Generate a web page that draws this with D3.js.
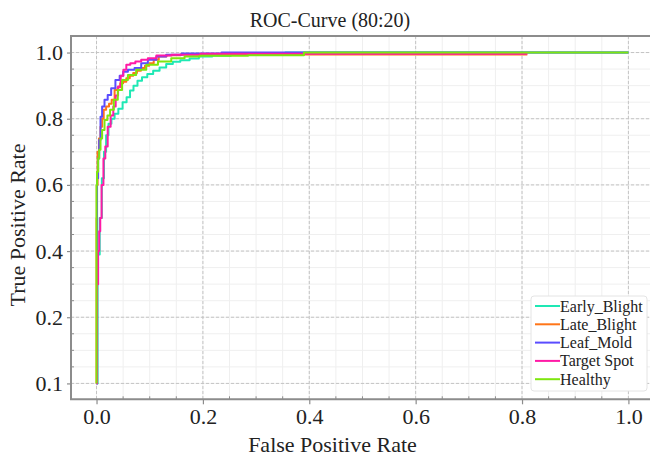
<!DOCTYPE html>
<html>
<head>
<meta charset="utf-8">
<script src="https://cdn.jsdelivr.net/npm/d3@7/dist/d3.min.js"></script>
<style>
  html, body { margin: 0; padding: 0; background: #fff; }
  svg { display: block; }
</style>
</head>
<body>
<svg id="chart" width="650" height="461"></svg>
<script>
// ROC curves per class (false positive rate / true positive rate)
const classNames = ["Early_Blight", "Late_Blight", "Leaf_Mold", "Target Spot", "Healthy"];
const classColors = ["#1ee8b4", "#ff7518", "#5a4cff", "#ff1aa6", "#7ee60e"];

const earlyFpr = [0, 0.004, 0.008, 0.012, 0.016, 0.020, 0.025, 0.031, 0.037, 0.045, 0.053, 0.060, 0.066, 0.073, 0.081, 0.090, 0.101, 0.112, 0.125, 0.137, 0.150, 0.165, 0.185, 0.200, 0.235, 0.270, 0.330, 0.380, 1.0];
const earlyTpr = [0, 0.39, 0.50, 0.62, 0.70, 0.75, 0.785, 0.80, 0.815, 0.83, 0.85, 0.865, 0.885, 0.90, 0.915, 0.925, 0.935, 0.945, 0.955, 0.965, 0.972, 0.977, 0.982, 0.988, 0.990, 0.993, 0.997, 1.0, 1.0];

const lateFpr = [0, 0, 0.001, 0.003, 0.006, 0.009, 0.012, 0.015, 0.021, 0.026, 0.031, 0.037, 0.042, 0.047, 0.053, 0.059, 0.066, 0.072, 0.080, 0.087, 0.095, 0.103, 0.112, 0.122, 0.141, 0.175, 0.210, 0.810];
const lateTpr = [0, 0.50, 0.60, 0.70, 0.74, 0.776, 0.80, 0.827, 0.837, 0.845, 0.857, 0.887, 0.895, 0.907, 0.912, 0.922, 0.93, 0.938, 0.945, 0.953, 0.96, 0.968, 0.978, 0.988, 0.992, 0.994, 0.994, 0.994];

const leafFpr = [0, 0.002, 0.004, 0.006, 0.009, 0.012, 0.018, 0.024, 0.031, 0.040, 0.047, 0.053, 0.065, 0.078, 0.090, 0.103, 0.122, 0.140, 0.180, 0.290, 0.420, 1.0];
const leafTpr = [0, 0.62, 0.68, 0.736, 0.806, 0.837, 0.857, 0.872, 0.892, 0.917, 0.93, 0.942, 0.948, 0.953, 0.968, 0.978, 0.988, 0.993, 0.997, 1.0, 1.0, 1.0];

const targetFpr = [0, 0.002, 0.004, 0.006, 0.008, 0.011, 0.015, 0.018, 0.024, 0.029, 0.034, 0.038, 0.043, 0.048, 0.053, 0.059, 0.068, 0.078, 0.090, 0.103, 0.122, 0.160, 0.230, 0.810];
const targetTpr = [0, 0.30, 0.40, 0.46, 0.50, 0.60, 0.68, 0.716, 0.776, 0.81, 0.837, 0.87, 0.897, 0.93, 0.948, 0.963, 0.968, 0.973, 0.978, 0.983, 0.991, 0.993, 0.996, 0.996];

const healthyFpr = [0, 0, 0.002, 0.004, 0.006, 0.009, 0.012, 0.018, 0.023, 0.028, 0.037, 0.043, 0.053, 0.065, 0.084, 0.103, 0.128, 0.153, 0.178, 0.210, 0.360, 0.420, 1.0];
const healthyTpr = [0, 0.60, 0.64, 0.68, 0.706, 0.74, 0.766, 0.796, 0.81, 0.827, 0.857, 0.887, 0.917, 0.932, 0.948, 0.963, 0.973, 0.983, 0.988, 0.990, 0.992, 1.0, 1.0];

const xTickValues = [0, 0.2, 0.4, 0.6, 0.8, 1.0];
const xTickLabels = ["0.0", "0.2", "0.4", "0.6", "0.8", "1.0"];
const yTickValues = [0, 0.2, 0.4, 0.6, 0.8, 1.0];
const yTickLabels = ["0.1", "0.2", "0.4", "0.6", "0.8", "1.0"];

const seriesFpr = [earlyFpr, lateFpr, leafFpr, targetFpr, healthyFpr];
const seriesTpr = [earlyTpr, lateTpr, leafTpr, targetTpr, healthyTpr];

const series = classNames.map((name, i) => ({
  name,
  color: classColors[i],
  points: seriesFpr[i].map((f, j) => [f, seriesTpr[i][j]])
}));

const SERIF = "'Liberation Serif'";
const INK = "#222";

// Layout
const svg = d3.select("#chart");
const box = { left: 71, right: 655, top: 36, bottom: 399.3 };
const xExtent = [-0.048, 1.05];
const yExtent = [-0.048, 1.05];

const x = d3.scaleLinear().domain(xExtent).range([box.left, box.right]);
const y = d3.scaleLinear().domain(yExtent).range([box.bottom, box.top]);

const minorStep = d3.range(-0.05, 1.0501, 0.05).map(v => +v.toFixed(2));
const minorX = minorStep.filter(v => v >= xExtent[0] && v <= xExtent[1]);
const minorY = minorStep.filter(v => v >= yExtent[0] && v <= yExtent[1]);

svg.append("defs").append("clipPath").attr("id", "plot-clip")
  .append("rect")
  .attr("x", box.left).attr("y", box.top)
  .attr("width", box.right - box.left).attr("height", box.bottom - box.top);

const grid = svg.append("g").attr("clip-path", "url(#plot-clip)");

// faint minor grid
grid.selectAll(".vminor").data(minorX).join("line")
  .attr("x1", d => x(d)).attr("x2", d => x(d))
  .attr("y1", box.top).attr("y2", box.bottom)
  .attr("stroke", "#efefef").attr("stroke-width", 1);
grid.selectAll(".hminor").data(minorY).join("line")
  .attr("y1", d => y(d)).attr("y2", d => y(d))
  .attr("x1", box.left).attr("x2", box.right)
  .attr("stroke", "#efefef").attr("stroke-width", 1);

// dashed major grid
grid.selectAll(".vmajor").data(xTickValues).join("line")
  .attr("x1", d => x(d)).attr("x2", d => x(d))
  .attr("y1", box.top).attr("y2", box.bottom)
  .attr("stroke", "#c4c4c4").attr("stroke-width", 1).attr("stroke-dasharray", "3,2");
grid.selectAll(".hmajor").data(yTickValues).join("line")
  .attr("y1", d => y(d)).attr("y2", d => y(d))
  .attr("x1", box.left).attr("x2", box.right)
  .attr("stroke", "#c4c4c4").attr("stroke-width", 1).attr("stroke-dasharray", "3,2");

// ROC lines, drawn as small stair steps between operating points
const line = d3.line().curve(d3.curveStep).x(d => x(d[0])).y(d => y(d[1]));
svg.append("g").attr("clip-path", "url(#plot-clip)")
  .selectAll("path").data(series).join("path")
  .attr("d", d => line(d.points))
  .attr("fill", "none")
  .attr("stroke", d => d.color)
  .attr("stroke-width", 2)
  .attr("stroke-linejoin", "round");

// frame (left, top, bottom)
const frameColor = "#8c8c8c";
svg.append("path")
  .attr("d", `M${box.right},${box.top}H${box.left}V${box.bottom}H${box.right}`)
  .attr("fill", "none").attr("stroke", frameColor).attr("stroke-width", 2);

// minor ticks, pointing into the plot
svg.append("g").selectAll("line").data(minorX.filter(v => !xTickValues.includes(v))).join("line")
  .attr("x1", d => x(d)).attr("x2", d => x(d))
  .attr("y1", box.bottom).attr("y2", box.bottom - 3)
  .attr("stroke", frameColor).attr("stroke-width", 1);
svg.append("g").selectAll("line").data(minorY.filter(v => !yTickValues.includes(v))).join("line")
  .attr("y1", d => y(d)).attr("y2", d => y(d))
  .attr("x1", box.left).attr("x2", box.left + 3)
  .attr("stroke", frameColor).attr("stroke-width", 1);

// axes
const xAxis = d3.axisBottom(x).tickValues(xTickValues)
  .tickFormat((d, i) => xTickLabels[i]).tickSize(5).tickSizeOuter(0).tickPadding(4);
const yAxis = d3.axisLeft(y).tickValues(yTickValues)
  .tickFormat((d, i) => yTickLabels[i]).tickSize(4).tickSizeOuter(0).tickPadding(4);

const gx = svg.append("g").attr("transform", `translate(0,${box.bottom})`).call(xAxis);
const gy = svg.append("g").attr("transform", `translate(${box.left},0)`).call(yAxis);
[gx, gy].forEach(g => {
  g.attr("font-family", null).attr("font-size", null);
  g.select(".domain").remove();
  g.selectAll(".tick line").attr("stroke", frameColor).attr("stroke-width", 1.2);
  g.selectAll(".tick text")
    .style("font-family", SERIF).style("font-size", "22px").style("fill", INK);
});

// titles
svg.append("text").attr("x", 330).attr("y", 27).attr("text-anchor", "middle")
  .style("font-family", SERIF).style("font-size", "20px").style("fill", INK)
  .text("ROC-Curve (80:20)");
svg.append("text").attr("x", (x(0) + x(1)) / 2 - 30).attr("y", 452).attr("text-anchor", "middle")
  .style("font-family", SERIF).style("font-size", "22px").style("fill", INK)
  .text("False Positive Rate");
svg.append("text")
  .attr("transform", `translate(25,225) rotate(-90)`)
  .attr("text-anchor", "middle")
  .style("font-family", SERIF).style("font-size", "22px").style("fill", INK)
  .text("True Positive Rate");

// legend
const legend = svg.append("g").attr("transform", "translate(531,296)");
legend.append("rect").attr("x", 0).attr("y", 0).attr("width", 116).attr("height", 95)
  .attr("rx", 3).attr("fill", "#fff").attr("stroke", "#e4e4e4").attr("stroke-width", 1);
const items = legend.selectAll(".item").data(series).join("g")
  .attr("transform", (d, i) => `translate(0,${10 + i * 18.3})`);
items.append("line").attr("x1", 4).attr("x2", 29).attr("y1", 0).attr("y2", 0)
  .attr("stroke", d => d.color).attr("stroke-width", 2);
items.append("text").attr("x", 29).attr("y", 5.5)
  .style("font-family", SERIF).style("font-size", "16px").style("fill", INK)
  .text(d => d.name);
</script>
</body>
</html>
